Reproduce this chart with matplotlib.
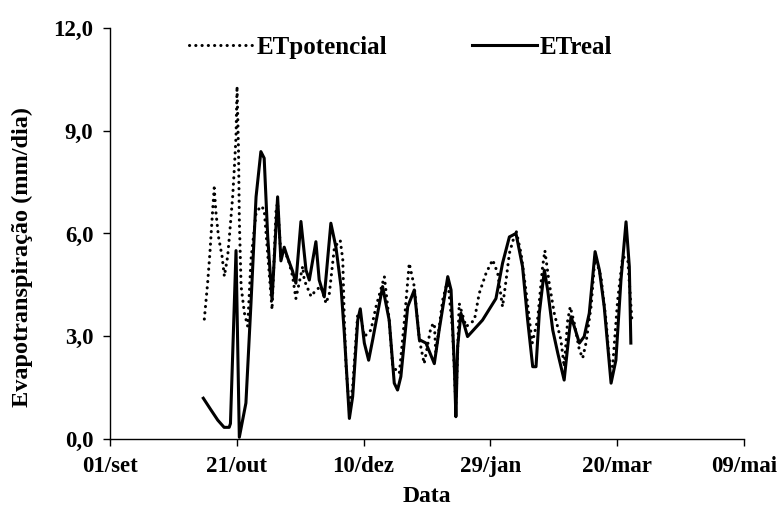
import matplotlib
matplotlib.use("Agg")
import matplotlib.pyplot as plt
from matplotlib.ticker import FuncFormatter

# Days counted from 01/set
tick_days = [0, 50, 100, 150, 200, 250]
tick_labels = ["01/set", "21/out", "10/dez", "29/jan", "20/mar", "09/mai"]

# ETpotencial (mm/dia)
etp_day = [37.2, 38.5, 39.4, 40.5, 41.1, 41.8, 42.8, 44.2, 45.1, 46.4, 47.3, 48.4, 49.0,
           49.7, 50.1, 50.7, 51.0, 51.7, 53.0, 54.3, 55.6, 57.6, 59.5, 60.8, 62.2, 63.9,
           65.5, 66.1, 67.4, 70.0, 72.0, 73.3, 76.0, 76.6, 79.3, 81.2, 83.2, 85.2, 86.5,
           88.5, 90.8, 91.8, 92.4, 93.1, 94.4, 95.7, 97.7, 98.7, 100.3, 102.9, 104.9,
           108.2, 110.1, 111.5, 114.1, 116.0, 118.0, 120.0, 122.0, 123.9, 126.6, 127.9,
           128.5, 131.2, 133.2, 135.1, 136.4, 137.7, 140.4, 143.7, 145.6, 148.3, 150.9,
           152.9, 154.8, 156.2, 157.5, 160.1, 162.1, 164.0, 166.5, 168.6, 170.6, 171.5,
           173.2, 175.2, 177.8, 179.1, 180.5, 181.5, 183.1, 185.1, 186.4, 187.7, 189.7,
           191.3, 193.6, 195.6, 196.9, 198.2, 200.2, 202.2, 204.2, 205.9]
etp_val = [3.5, 4.55, 5.43, 6.7, 7.33, 6.6, 5.9, 5.33, 4.75, 5.33, 6.1, 7.1, 7.86,
           8.84, 10.3, 8.35, 6.4, 4.46, 3.68, 3.29, 5.24, 6.6, 6.8, 6.7, 5.4, 3.78,
           6.7, 6.9, 5.33, 5.33, 4.75, 4.1, 5.04, 4.64, 4.16, 4.35, 4.45, 3.96, 4.25,
           5.6, 5.8, 5.23, 3.47, 2.11, 0.85, 1.53, 3.67, 3.67, 2.99, 3.18, 3.86,
           4.74, 3.47, 2.11, 1.92, 3.38, 5.13, 4.45, 2.9, 2.2, 3.28, 3.38,
           2.5, 4.06, 4.64, 3.18, 0.95, 3.96, 3.28, 3.47, 4.25, 4.84, 5.23,
           4.84, 3.86, 4.64, 5.42, 6.1, 5.42, 4.35, 2.8, 3.47, 5.03, 5.5,
           4.55, 3.67, 2.9, 2.11, 3.47, 3.86, 3.38, 2.6, 2.36, 2.8, 3.86,
           5.33, 4.74, 3.47, 2.3, 2.11, 4.06, 5.33, 5.23, 3.38]

# ETreal (mm/dia)
etr_day = [36.8, 39.8, 42.5, 45.0, 47.0, 47.5, 49.7, 51.0, 53.6, 55.6, 57.6, 59.5, 60.8,
           62.2, 63.9, 66.1, 67.4, 68.7, 70.0, 72.0, 73.3, 75.3, 77.3, 78.6, 81.2, 82.5,
           84.5, 87.1, 89.1, 91.1, 92.4, 94.4, 95.7, 97.7, 98.7, 100.3, 102.0, 103.6,
           107.5, 110.1, 112.1, 113.4, 114.7, 117.4, 120.0, 122.0, 124.6, 127.9, 129.8,
           133.2, 134.5, 135.8, 136.4, 137.1, 138.4, 141.0, 146.9, 152.2, 154.8, 157.5,
           160.1, 162.7, 164.7, 166.7, 168.0, 169.3, 171.3, 172.6, 174.6, 176.6, 179.1,
           180.5, 181.8, 183.1, 185.1, 187.0, 189.0, 191.3, 193.0, 194.9, 197.6, 199.5,
           201.5, 203.5, 204.8, 205.4]
etr_val = [1.19, 0.85, 0.55, 0.34, 0.34, 0.45, 5.5, 0.05, 1.05, 3.97, 7.07, 8.39, 8.2,
           5.9, 4.06, 7.07, 5.2, 5.6, 5.3, 4.9, 4.55, 6.35, 4.93, 4.64, 5.76, 4.64,
           4.15, 6.3, 5.6, 4.45, 3.09, 0.6, 1.24, 3.47, 3.8, 2.8, 2.3, 2.9,
           4.45, 3.47, 1.63, 1.43, 1.82, 3.86, 4.35, 2.9, 2.8, 2.2, 3.18,
           4.74, 4.35, 2.11, 0.65, 2.7, 3.67, 2.99, 3.47, 4.1, 5.13, 5.9,
           6.0, 5.03, 3.47, 2.11, 2.11, 3.67, 4.93, 4.35, 3.18, 2.5, 1.72,
           2.7, 3.57, 3.28, 2.8, 2.99, 3.67, 5.47, 4.93, 3.86, 1.63, 2.3,
           4.64, 6.34, 5.03, 2.8]

plt.rcParams["font.family"] = ["Liberation Serif", "DejaVu Serif"]
plt.rcParams["font.weight"] = "bold"

fig = plt.figure(figsize=(7.79, 5.20), dpi=100)
ax = fig.add_axes([0.1412, 0.1558, 0.8138, 0.7904])

ax.plot(etp_day, etp_val, color="black", lw=2.2, linestyle=(0, (0.05, 2.0)),
        dash_capstyle="round", solid_joinstyle="round", label="ETpotencial")
ax.plot(etr_day, etr_val, color="black", lw=2.2, solid_joinstyle="round",
        label="ETreal")

ax.set_xlim(0, 250)
ax.set_ylim(0, 12)
ax.set_xticks(tick_days)
ax.set_xticklabels(tick_labels)
ax.set_yticks([0, 3, 6, 9, 12])
ax.yaxis.set_major_formatter(FuncFormatter(lambda v, p: f"{v:.1f}".replace(".", ",")))

for s in ("top", "right"):
    ax.spines[s].set_visible(False)
for s in ("left", "bottom"):
    ax.spines[s].set_linewidth(1.0)

ax.tick_params(axis="both", direction="out", length=5, width=1.0, labelsize=16.5, pad=7)
ax.set_xlabel("Data", fontsize=17, fontweight="bold", labelpad=7)
ax.set_ylabel("Evapotranspiração (mm/dia)", fontsize=17.5, fontweight="bold")
ax.yaxis.set_label_coords(-0.122, 0.443)

ax.legend(loc="upper left", bbox_to_anchor=(0.089, 1.035), ncol=2, frameon=False,
          prop={"size": 18, "weight": "bold"}, handlelength=2.6, handletextpad=0.1,
          columnspacing=3.4)

fig.savefig("out.png", dpi=100)
